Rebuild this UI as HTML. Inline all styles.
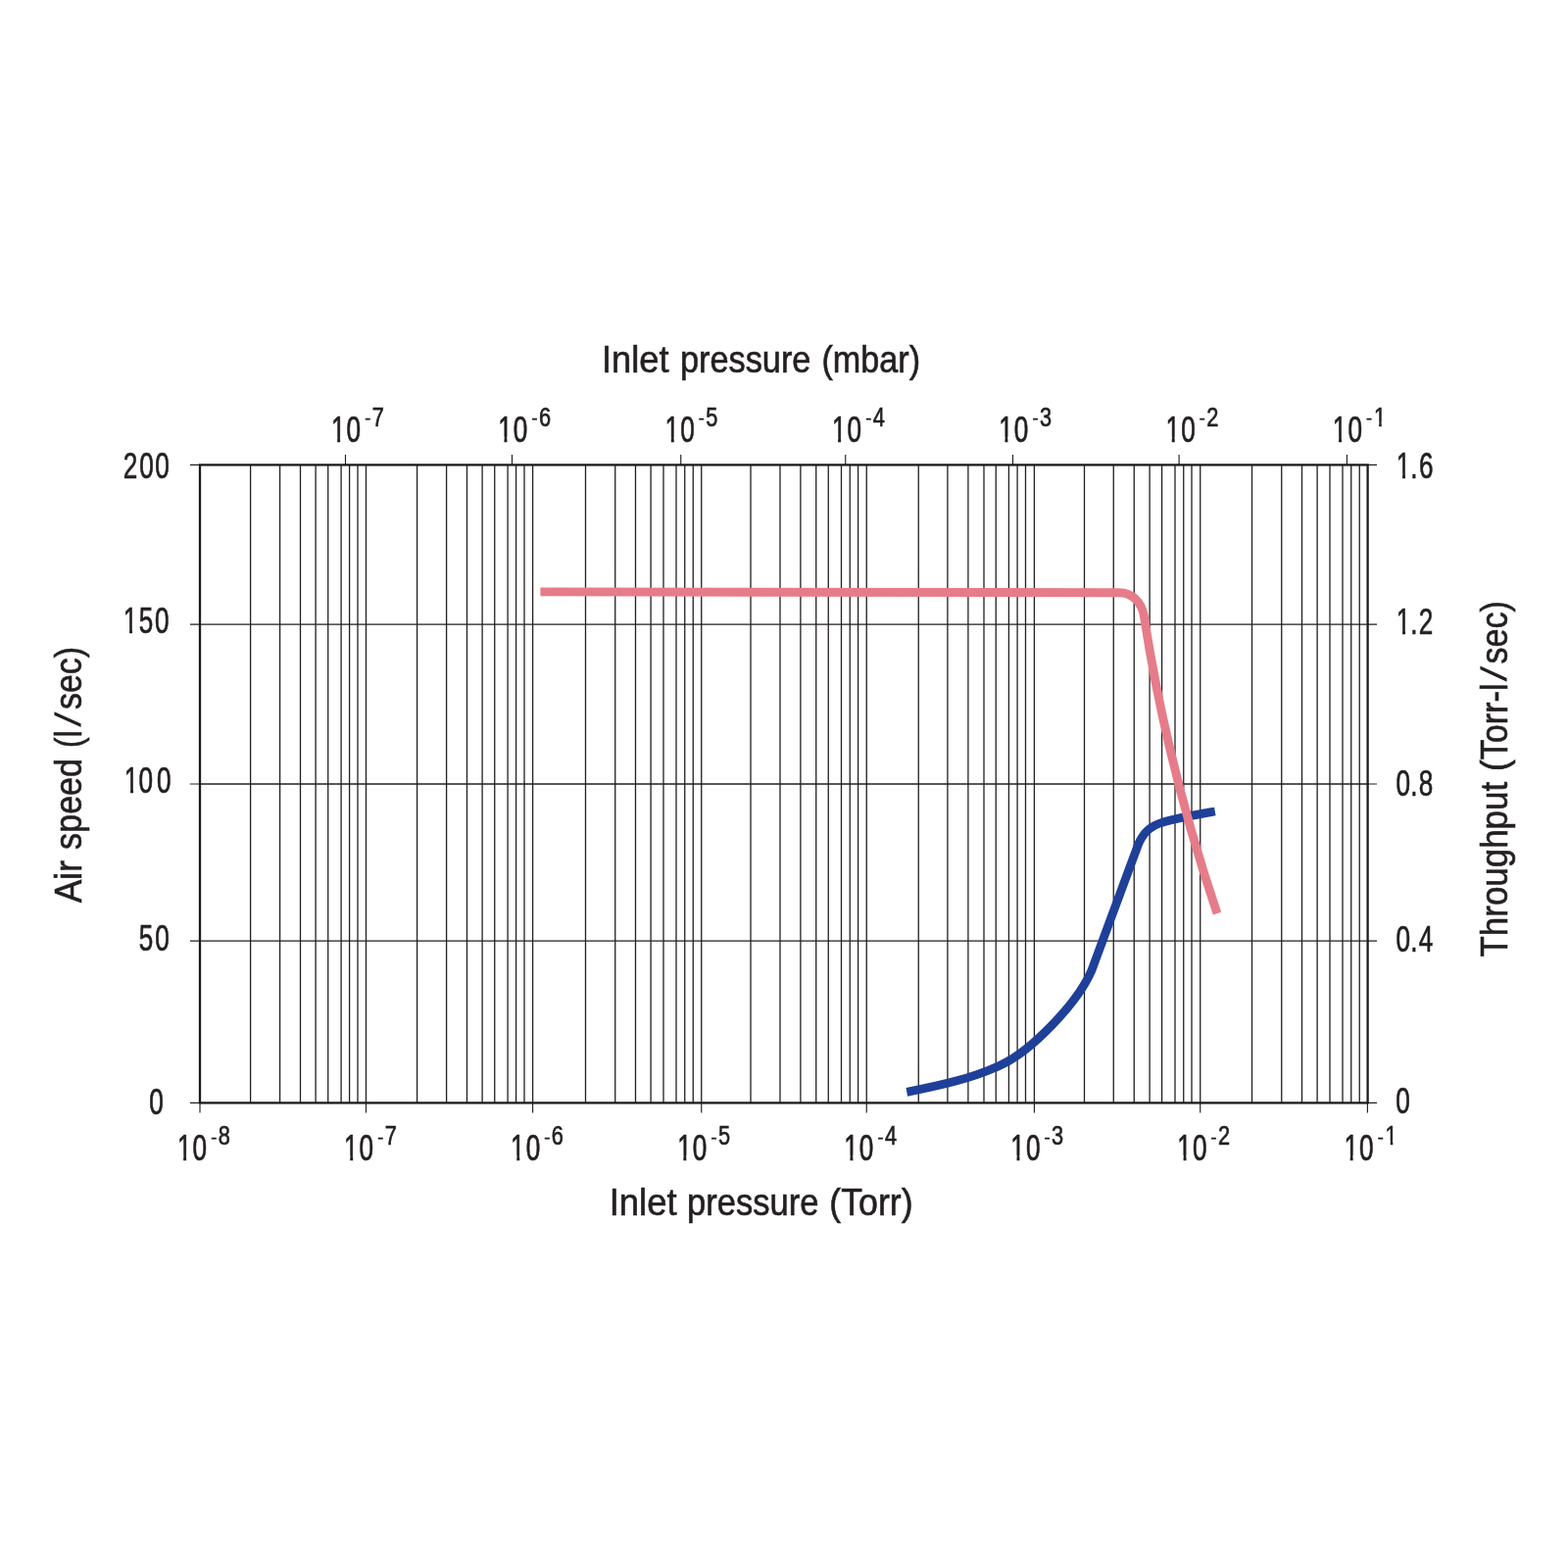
<!DOCTYPE html>
<html lang="en"><head><meta charset="utf-8"><title>Pumping speed and throughput vs inlet pressure</title>
<style>
html,body{margin:0;padding:0;background:#fff}
body{width:1600px;height:1600px;overflow:hidden}
svg{display:block}
text{font-family:"Liberation Sans",Arial,Helvetica,sans-serif;fill:#231f20;stroke:#231f20;stroke-width:0.6px;vector-effect:non-scaling-stroke}
</style></head><body>
<svg width="1600" height="1600" viewBox="0 0 1600 1600">
<rect width="1600" height="1600" fill="#fff"/>
<g id="grid">
<path d="M255.60 474.4V1125.4M285.60 474.4V1125.4M306.50 474.4V1125.4M322.10 474.4V1125.4M334.75 474.4V1125.4M348.10 474.4V1125.4M356.60 474.4V1125.4M365.00 474.4V1125.4M373.50 474.4V1125.4M425.60 474.4V1125.4M455.60 474.4V1125.4M476.50 474.4V1125.4M492.10 474.4V1125.4M504.75 474.4V1125.4M518.10 474.4V1125.4M526.60 474.4V1125.4M535.00 474.4V1125.4M543.60 474.4V1125.4M597.50 474.4V1125.4M627.75 474.4V1125.4M648.50 474.4V1125.4M664.10 474.4V1125.4M677.00 474.4V1125.4M690.00 474.4V1125.4M698.75 474.4V1125.4M707.25 474.4V1125.4M715.75 474.4V1125.4M766.00 474.4V1125.4M796.00 474.4V1125.4M816.90 474.4V1125.4M832.75 474.4V1125.4M845.25 474.4V1125.4M858.50 474.4V1125.4M867.25 474.4V1125.4M875.60 474.4V1125.4M884.25 474.4V1125.4M937.25 474.4V1125.4M966.90 474.4V1125.4M987.90 474.4V1125.4M1004.00 474.4V1125.4M1016.25 474.4V1125.4M1029.40 474.4V1125.4M1038.10 474.4V1125.4M1046.50 474.4V1125.4M1055.40 474.4V1125.4M1106.50 474.4V1125.4M1136.25 474.4V1125.4M1157.25 474.4V1125.4M1173.10 474.4V1125.4M1185.60 474.4V1125.4M1199.00 474.4V1125.4M1207.75 474.4V1125.4M1216.00 474.4V1125.4M1224.75 474.4V1125.4M1277.50 474.4V1125.4M1307.75 474.4V1125.4M1328.50 474.4V1125.4M1344.10 474.4V1125.4M1357.00 474.4V1125.4M1370.00 474.4V1125.4M1378.75 474.4V1125.4M1387.25 474.4V1125.4M204.0 637.1H1395.6M204.0 800.0H1395.6M204.0 960.1H1395.6" stroke="#231f20" stroke-width="1.3" fill="none"/>
<path d="M194 474.4H204.0M1395.6 474.4H1405M194 637.1H204.0M1395.6 637.1H1405M194 800.0H204.0M1395.6 800.0H1405M194 960.1H204.0M1395.6 960.1H1405M194 1125.4H204.0M1395.6 1125.4H1405M204.00 1125.4V1135.6M373.50 1125.4V1135.6M543.60 1125.4V1135.6M715.75 1125.4V1135.6M884.25 1125.4V1135.6M1055.40 1125.4V1135.6M1224.75 1125.4V1135.6M1395.40 1125.4V1135.6M352.50 464V474.4M522.50 464V474.4M694.75 464V474.4M862.75 464V474.4M1033.50 464V474.4M1203.10 464V474.4M1374.40 464V474.4" stroke="#231f20" stroke-width="1.15" fill="none"/>
<rect x="204.0" y="474.4" width="1191.60" height="651.00" fill="none" stroke="#1c1a1b" stroke-width="2.3"/>
<path d="M925.3 1114.4C957.3 1108.0 992.0 1100.8 1022.8 1086C1051.6 1072.2 1098.6 1025.3 1113.8 990.5L1161.0 863.0C1165.2 851.7 1173.5 843.0 1185 839.6C1202.2 834.4 1222.1 831.1 1239.8 828.0" stroke="#1f4098" stroke-width="8.8" fill="none" stroke-linejoin="round"/>
<path d="M551.4 603.9L1142 604.75C1155 604.85 1164.8 614 1167.25 628.0Q1190.64 780.05 1241.99 932.1" stroke="#e67c8a" stroke-width="8.9" fill="none" stroke-linejoin="round"/>
</g>
<g id="labels">
<g transform="translate(125.73,487.69) scale(0.695,1)"><text x="0.00 23.88 46.91" font-size="37.6">200</text></g>
<g transform="translate(125.82,646.07) scale(0.695,1)"><text x="0.00 22.79 46.28" font-size="37.6">150</text><path d="M0.85 -5.31H8.98V2.2H0.85ZM13.25 -5.31H21.09V2.2H13.25Z" fill="#fff"/></g>
<g transform="translate(126.82,809.32) scale(0.695,1)"><text x="0.00 21.10 47.72" font-size="37.6">100</text><path d="M0.85 -5.31H8.98V2.2H0.85ZM13.25 -5.31H21.09V2.2H13.25Z" fill="#fff"/></g>
<g transform="translate(141.66,970.07) scale(0.695,1)"><text x="0.00 23.85" font-size="37.6">50</text></g>
<g transform="translate(152.13,1137.07) scale(0.695,1)"><text x="0.00" font-size="37.6">0</text></g>
<g transform="translate(1424.82,487.69) scale(0.695,1)"><text x="0.00 20.94 33.20" font-size="37.6">1.6</text><path d="M0.85 -5.31H8.98V2.2H0.85ZM13.25 -5.31H21.09V2.2H13.25Z" fill="#fff"/></g>
<g transform="translate(1424.82,647.20) scale(0.695,1)"><text x="0.00 20.94 32.97" font-size="37.6">1.2</text><path d="M0.85 -5.31H8.98V2.2H0.85ZM13.25 -5.31H21.09V2.2H13.25Z" fill="#fff"/></g>
<g transform="translate(1424.48,812.19) scale(0.695,1)"><text x="0.00 21.42 33.45" font-size="37.6">0.8</text></g>
<g transform="translate(1424.48,971.09) scale(0.695,1)"><text x="0.00 21.42 33.57" font-size="37.6">0.4</text></g>
<g transform="translate(1424.33,1136.19) scale(0.695,1)"><text x="0.00" font-size="37.6">0</text></g>
<g transform="translate(180.92,1184.35) scale(0.695,1)"><text x="0.00 22.47" font-size="37.6">10</text><path d="M0.85 -5.31H8.98V2.2H0.85ZM13.25 -5.31H21.09V2.2H13.25Z" fill="#fff"/></g><g transform="translate(215.20,1165.95) scale(1.2,1)"><text x="0.00" font-size="15.0">-</text></g><g transform="translate(222.65,1168.25) scale(0.8,1)"><text x="0.00" font-size="27.2">8</text></g>
<g transform="translate(350.99,1184.35) scale(0.695,1)"><text x="0.00 22.47" font-size="37.6">10</text><path d="M0.85 -5.31H8.98V2.2H0.85ZM13.25 -5.31H21.09V2.2H13.25Z" fill="#fff"/></g><g transform="translate(385.27,1165.95) scale(1.2,1)"><text x="0.00" font-size="15.0">-</text></g><g transform="translate(392.71,1168.25) scale(0.8,1)"><text x="0.00" font-size="27.2">7</text></g>
<g transform="translate(521.06,1184.35) scale(0.695,1)"><text x="0.00 22.47" font-size="37.6">10</text><path d="M0.85 -5.31H8.98V2.2H0.85ZM13.25 -5.31H21.09V2.2H13.25Z" fill="#fff"/></g><g transform="translate(555.34,1165.95) scale(1.2,1)"><text x="0.00" font-size="15.0">-</text></g><g transform="translate(562.71,1168.25) scale(0.8,1)"><text x="0.00" font-size="27.2">6</text></g>
<g transform="translate(691.13,1184.35) scale(0.695,1)"><text x="0.00 22.47" font-size="37.6">10</text><path d="M0.85 -5.31H8.98V2.2H0.85ZM13.25 -5.31H21.09V2.2H13.25Z" fill="#fff"/></g><g transform="translate(725.41,1165.95) scale(1.2,1)"><text x="0.00" font-size="15.0">-</text></g><g transform="translate(732.88,1168.25) scale(0.8,1)"><text x="0.00" font-size="27.2">5</text></g>
<g transform="translate(861.20,1184.35) scale(0.695,1)"><text x="0.00 22.47" font-size="37.6">10</text><path d="M0.85 -5.31H8.98V2.2H0.85ZM13.25 -5.31H21.09V2.2H13.25Z" fill="#fff"/></g><g transform="translate(895.48,1165.95) scale(1.2,1)"><text x="0.00" font-size="15.0">-</text></g><g transform="translate(903.00,1168.25) scale(0.8,1)"><text x="0.00" font-size="27.2">4</text></g>
<g transform="translate(1031.27,1184.35) scale(0.695,1)"><text x="0.00 22.47" font-size="37.6">10</text><path d="M0.85 -5.31H8.98V2.2H0.85ZM13.25 -5.31H21.09V2.2H13.25Z" fill="#fff"/></g><g transform="translate(1065.55,1165.95) scale(1.2,1)"><text x="0.00" font-size="15.0">-</text></g><g transform="translate(1073.06,1168.25) scale(0.8,1)"><text x="0.00" font-size="27.2">3</text></g>
<g transform="translate(1201.34,1184.35) scale(0.695,1)"><text x="0.00 22.47" font-size="37.6">10</text><path d="M0.85 -5.31H8.98V2.2H0.85ZM13.25 -5.31H21.09V2.2H13.25Z" fill="#fff"/></g><g transform="translate(1235.62,1165.95) scale(1.2,1)"><text x="0.00" font-size="15.0">-</text></g><g transform="translate(1243.07,1168.25) scale(0.8,1)"><text x="0.00" font-size="27.2">2</text></g>
<g transform="translate(1371.41,1184.35) scale(0.695,1)"><text x="0.00 22.47" font-size="37.6">10</text><path d="M0.85 -5.31H8.98V2.2H0.85ZM13.25 -5.31H21.09V2.2H13.25Z" fill="#fff"/></g><g transform="translate(1405.69,1165.95) scale(1.2,1)"><text x="0.00" font-size="15.0">-</text></g><g transform="translate(1413.60,1168.25) scale(0.8,1)"><text x="0.00" font-size="27.2">1</text><path d="M0.32 -4.53H6.42V2.2H0.32ZM9.66 -4.53H15.55V2.2H9.66Z" fill="#fff"/></g>
<g transform="translate(337.92,451.10) scale(0.695,1)"><text x="0.00 22.47" font-size="37.6">10</text><path d="M0.85 -5.31H8.98V2.2H0.85ZM13.25 -5.31H21.09V2.2H13.25Z" fill="#fff"/></g><g transform="translate(372.20,432.20) scale(1.2,1)"><text x="0.00" font-size="15.0">-</text></g><g transform="translate(379.64,434.90) scale(0.8,1)"><text x="0.00" font-size="27.2">7</text></g>
<g transform="translate(508.24,451.10) scale(0.695,1)"><text x="0.00 22.47" font-size="37.6">10</text><path d="M0.85 -5.31H8.98V2.2H0.85ZM13.25 -5.31H21.09V2.2H13.25Z" fill="#fff"/></g><g transform="translate(542.52,432.20) scale(1.2,1)"><text x="0.00" font-size="15.0">-</text></g><g transform="translate(549.89,434.90) scale(0.8,1)"><text x="0.00" font-size="27.2">6</text></g>
<g transform="translate(678.56,451.10) scale(0.695,1)"><text x="0.00 22.47" font-size="37.6">10</text><path d="M0.85 -5.31H8.98V2.2H0.85ZM13.25 -5.31H21.09V2.2H13.25Z" fill="#fff"/></g><g transform="translate(712.84,432.20) scale(1.2,1)"><text x="0.00" font-size="15.0">-</text></g><g transform="translate(720.31,434.90) scale(0.8,1)"><text x="0.00" font-size="27.2">5</text></g>
<g transform="translate(848.88,451.10) scale(0.695,1)"><text x="0.00 22.47" font-size="37.6">10</text><path d="M0.85 -5.31H8.98V2.2H0.85ZM13.25 -5.31H21.09V2.2H13.25Z" fill="#fff"/></g><g transform="translate(883.16,432.20) scale(1.2,1)"><text x="0.00" font-size="15.0">-</text></g><g transform="translate(890.68,434.90) scale(0.8,1)"><text x="0.00" font-size="27.2">4</text></g>
<g transform="translate(1019.20,451.10) scale(0.695,1)"><text x="0.00 22.47" font-size="37.6">10</text><path d="M0.85 -5.31H8.98V2.2H0.85ZM13.25 -5.31H21.09V2.2H13.25Z" fill="#fff"/></g><g transform="translate(1053.48,432.20) scale(1.2,1)"><text x="0.00" font-size="15.0">-</text></g><g transform="translate(1060.99,434.90) scale(0.8,1)"><text x="0.00" font-size="27.2">3</text></g>
<g transform="translate(1189.52,451.10) scale(0.695,1)"><text x="0.00 22.47" font-size="37.6">10</text><path d="M0.85 -5.31H8.98V2.2H0.85ZM13.25 -5.31H21.09V2.2H13.25Z" fill="#fff"/></g><g transform="translate(1223.80,432.20) scale(1.2,1)"><text x="0.00" font-size="15.0">-</text></g><g transform="translate(1231.25,434.90) scale(0.8,1)"><text x="0.00" font-size="27.2">2</text></g>
<g transform="translate(1359.84,451.10) scale(0.695,1)"><text x="0.00 22.47" font-size="37.6">10</text><path d="M0.85 -5.31H8.98V2.2H0.85ZM13.25 -5.31H21.09V2.2H13.25Z" fill="#fff"/></g><g transform="translate(1394.12,432.20) scale(1.2,1)"><text x="0.00" font-size="15.0">-</text></g><g transform="translate(1402.03,434.90) scale(0.8,1)"><text x="0.00" font-size="27.2">1</text><path d="M0.32 -4.53H6.42V2.2H0.32ZM9.66 -4.53H15.55V2.2H9.66Z" fill="#fff"/></g>
<text transform="translate(613.90,380.10) scale(0.9553,1)" font-size="38.0">Inlet</text> <text transform="translate(693.89,380.10) scale(0.9036,1)" font-size="38.0">pressure</text> <text transform="translate(838.38,380.10) scale(0.9000,1)" font-size="38.0">(mbar)</text>
<text transform="translate(621.68,1239.80) scale(0.9597,1)" font-size="38.0">Inlet</text> <text transform="translate(701.02,1239.80) scale(0.9091,1)" font-size="38.0">pressure</text> <text transform="translate(846.35,1239.80) scale(0.9392,1)" font-size="38.0">(Torr)</text>
<text transform="translate(82.80,921.22) rotate(-90) scale(0.9303,1)" font-size="38.0">Air</text> <text transform="translate(82.80,866.90) rotate(-90) scale(0.8978,1)" font-size="38.0">speed</text> <text transform="translate(82.80,762.91) rotate(-90) scale(0.8334,1)" font-size="38.0">(l</text><text transform="translate(82.80,742.87) rotate(-90) scale(1.6345,1)" font-size="38.0" style="stroke:#fff;stroke-width:1px">/</text><text transform="translate(82.80,723.99) rotate(-90) scale(0.8914,1)" font-size="38.0">sec)</text>
<text transform="translate(1537.80,976.53) rotate(-90) scale(0.9196,1)" font-size="38.0">Throughput</text> <text transform="translate(1537.80,786.66) rotate(-90) scale(0.8993,1)" font-size="38.0">(Torr-l</text><text transform="translate(1537.80,696.54) rotate(-90) scale(1.6808,1)" font-size="38.0" style="stroke:#fff;stroke-width:1px">/</text><text transform="translate(1537.80,677.45) rotate(-90) scale(0.8951,1)" font-size="38.0">sec)</text>
</g>
</svg>
</body></html>
